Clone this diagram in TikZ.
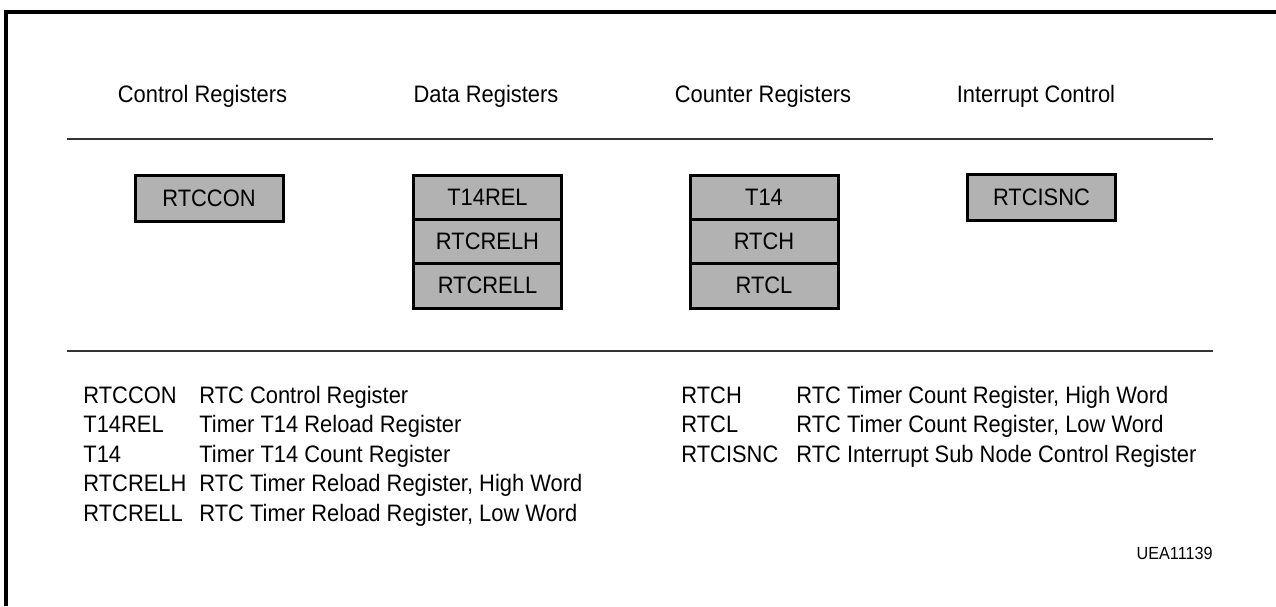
\documentclass[tikz,border=0pt]{standalone}
\usepackage{fontspec}
\setmainfont[FakeStretch=0.92]{Liberation Sans}
\begin{document}
\begin{tikzpicture}[x=0.5pt,y=-0.5pt,
  every node/.style={font=\fontsize{11.9pt}{14pt}\selectfont, inner sep=0pt},
  hdr/.style={anchor=base},
  reg/.style={draw=black, line width=1.5pt, fill=black!30, minimum width=74pt, minimum height=22.2pt},
  legk/.style={anchor=base west},
  rule/.style={line width=0.9pt, draw=black!80}]
\useasboundingbox (0,0) rectangle (1276,606);
% frame (partial)
\coordinate (ftr) at (1276,12);
\coordinate (ftl) at (6,12);
\coordinate (fbl) at (6,606);
\draw[line width=1.6pt] (ftr) -- (ftl) -- (fbl);
% headers
\node[hdr] (h1) at (202.5,102) {Control Registers};
\node[hdr] (h2) at (486,102) {Data Registers};
\node[hdr] (h3) at (763,102) {Counter Registers};
\node[hdr] (h4) at (1036,102) {Interrupt Control};
% rules
\coordinate (r1a) at (67,139); \coordinate (r1b) at (1213,139);
\coordinate (r2a) at (67,351); \coordinate (r2b) at (1213,351);
\draw[rule] (r1a) -- (r1b);
\draw[rule] (r2a) -- (r2b);
% registers
\node[reg, minimum height=23pt] (rtccon) at (209,198) {RTCCON};
\node[reg] (t14rel) at (487.5,197.2) {T14REL};
\node[reg] (rtcrelh) at (487.5,241.5) {RTCRELH};
\node[reg] (rtcrell) at (487.5,285.8) {RTCRELL};
\node[reg] (t14) at (764,197.2) {T14};
\node[reg] (rtch) at (764,241.5) {RTCH};
\node[reg] (rtcl) at (764,285.8) {RTCL};
\node[reg, minimum height=23pt] (rtcisnc) at (1041.5,197.5) {RTCISNC};
% legend left
\node[legk] (k1) at (83,403) {RTCCON};
\node[legk] (d1) at (199,403) {RTC Control Register};
\node[legk] (k2) at (83,432.5) {T14REL};
\node[legk] (d2) at (199,432.5) {Timer T14 Reload Register};
\node[legk] (k3) at (83,462) {T14};
\node[legk] (d3) at (199,462) {Timer T14 Count Register};
\node[legk] (k4) at (83,491.5) {RTCRELH};
\node[legk] (d4) at (199,491.5) {RTC Timer Reload Register, High Word};
\node[legk] (k5) at (83,521) {RTCRELL};
\node[legk] (d5) at (199,521) {RTC Timer Reload Register, Low Word};
% legend right
\node[legk] (k6) at (681,403) {RTCH};
\node[legk] (d6) at (796,403) {RTC Timer Count Register, High Word};
\node[legk] (k7) at (681,432.5) {RTCL};
\node[legk] (d7) at (796,432.5) {RTC Timer Count Register, Low Word};
\node[legk] (k8) at (681,462) {RTCISNC};
\node[legk] (d8) at (796,462) {RTC Interrupt Sub Node Control Register};
% id
\node[anchor=base east, font=\fontsize{8.8pt}{10pt}\selectfont] (uea) at (1213,559) {UEA11139};
\end{tikzpicture}
\end{document}
